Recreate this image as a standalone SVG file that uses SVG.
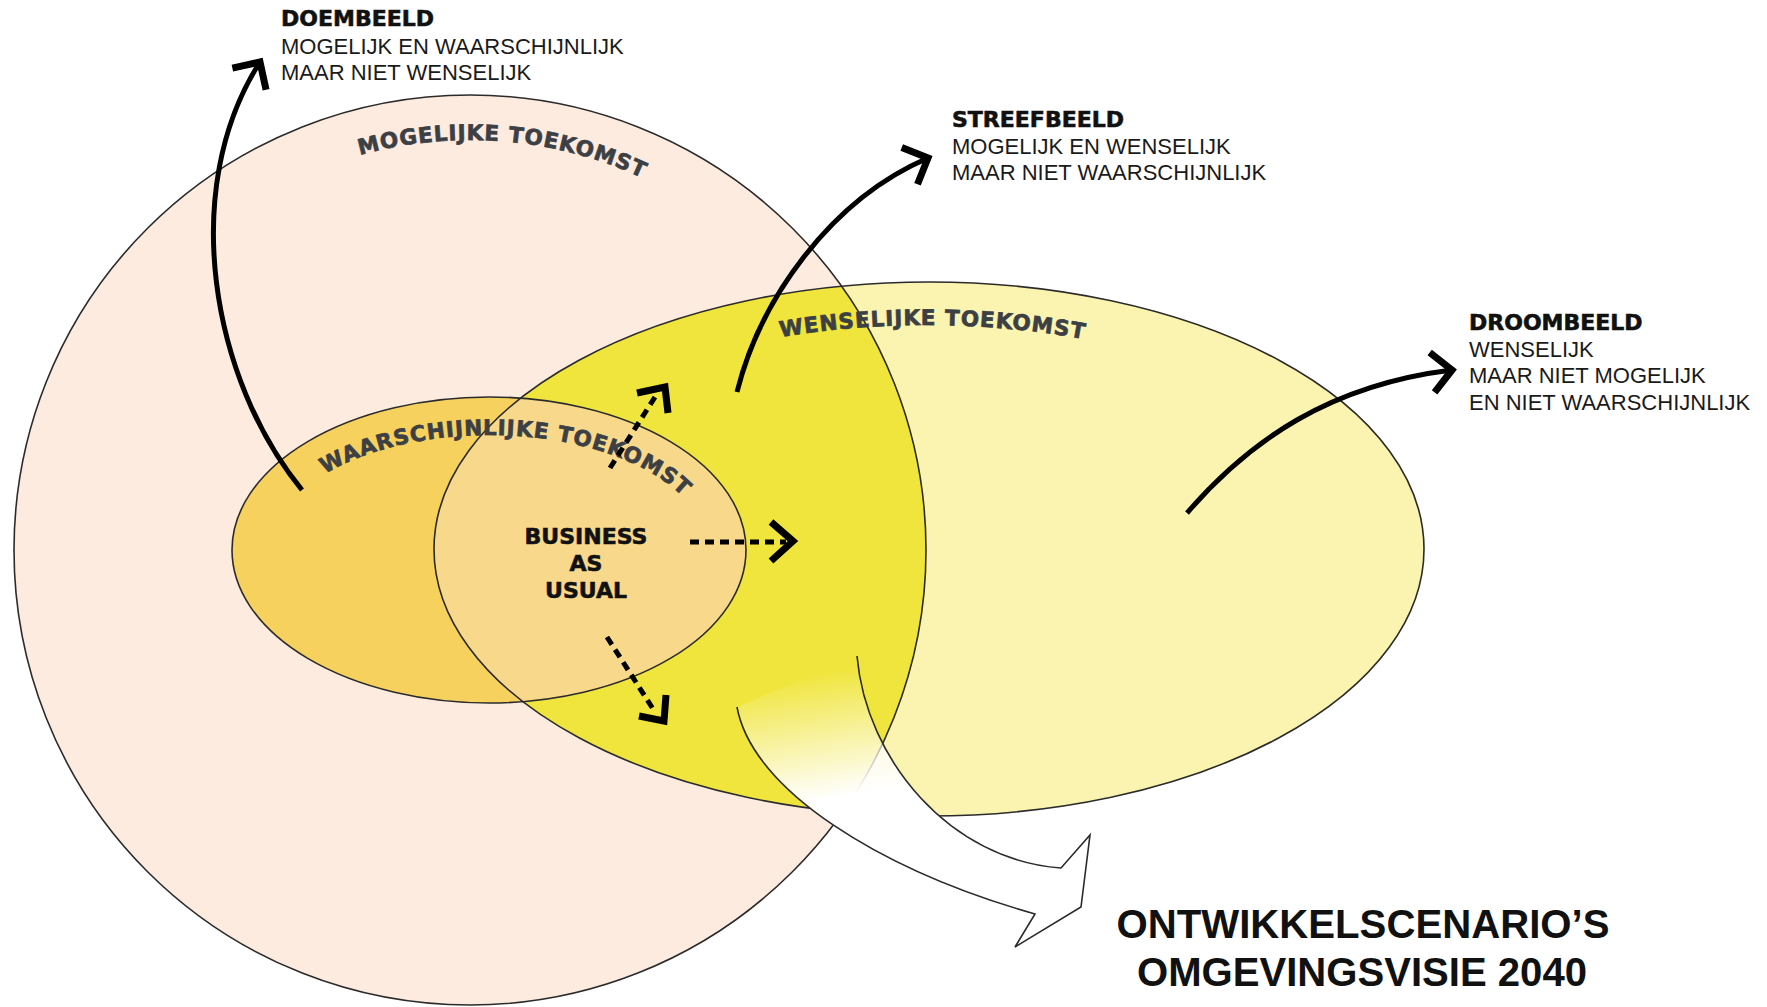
<svg xmlns="http://www.w3.org/2000/svg" width="1767" height="1007" viewBox="0 0 1767 1007">
<style>
.outline{fill:none;stroke:#2b2b2b;stroke-width:1.6}
.arc{font-family:"DejaVu Sans",sans-serif;font-weight:bold;font-size:21.5px;fill:#3c3f44;stroke:#3c3f44;stroke-width:0.7;letter-spacing:0.9px}
.head{font-family:"DejaVu Sans",sans-serif;font-weight:bold;font-size:22px;fill:#111;stroke:#111;stroke-width:0.6}
.body{font-family:"Liberation Sans",Arial,sans-serif;font-size:22px;fill:#1a1a1a}
.bau{font-family:"DejaVu Sans",sans-serif;font-weight:bold;font-size:22px;fill:#111;stroke:#111;stroke-width:0.6;text-anchor:middle}
.title{font-family:"Liberation Sans",Arial,sans-serif;font-weight:bold;font-size:41px;fill:#111;text-anchor:middle}
.curve{fill:none;stroke:#000;stroke-width:5}
.dash{fill:none;stroke:#000;stroke-width:5;stroke-dasharray:9 6}
.chev{fill:none;stroke:#000;stroke-width:7;stroke-linejoin:miter}
</style>
<defs>
  <clipPath id="clipMog"><ellipse cx="470" cy="550" rx="456" ry="455"/></clipPath>
  <clipPath id="clipWen"><ellipse cx="929" cy="549" rx="495" ry="267"/></clipPath>
  <linearGradient id="fade" gradientUnits="userSpaceOnUse" x1="800" y1="675" x2="820" y2="800">
    <stop offset="0" stop-color="#ffffff" stop-opacity="0"/>
    <stop offset="1" stop-color="#ffffff" stop-opacity="1"/>
  </linearGradient>
  <marker id="chevron" markerUnits="userSpaceOnUse" markerWidth="60" markerHeight="60" viewBox="-30 -30 60 60" refX="0" refY="0" orient="auto" overflow="visible">
    <path d="M -20,-20 L 0,0 L -20,20" fill="none" stroke="#000" stroke-width="7"/>
  </marker>
  <path id="pMog" d="M 60,550 A 410,410 0 0 1 880,550"/>
  <path id="pWaar" d="M 270,550 A 219,115 0 0 1 708,550"/>
  <path id="pWen" d="M 474,549 A 452,224 0 0 1 1378,549"/>
</defs>

<g id="mogelijke-toekomst">
  <ellipse cx="470" cy="550" rx="456" ry="455" fill="#fdebe0"/>
</g>
<g id="wenselijke-toekomst">
  <ellipse cx="929" cy="549" rx="495" ry="267" fill="#fbf3b0"/>
  <ellipse cx="929" cy="549" rx="495" ry="267" fill="#f0e53c" clip-path="url(#clipMog)"/>
</g>
<g id="waarschijnlijke-toekomst">
  <ellipse cx="489" cy="550" rx="257" ry="153" fill="#f7d15e"/>
  <ellipse cx="489" cy="550" rx="257" ry="153" fill="#f8d98c" clip-path="url(#clipWen)"/>
</g>
<g id="outlines">
  <ellipse class="outline" cx="470" cy="550" rx="456" ry="455"/>
  <ellipse class="outline" cx="929" cy="549" rx="495" ry="267"/>
  <ellipse class="outline" cx="489" cy="550" rx="257" ry="153"/>
</g>

<g id="ontwikkel-pijl">
  <path d="M 737,707 C 752,790 880,870 1035,914 L 1015,947 L 1081,907 L 1090,835 L 1061,868 C 950,860 866,760 857,656 Z" fill="url(#fade)"/>
  <path d="M 737,707 C 752,790 880,870 1035,914 L 1015,947 L 1081,907 L 1090,835 L 1061,868 C 950,860 866,760 857,656" fill="none" stroke="#2b2b2b" stroke-width="1.6" stroke-linejoin="miter"/>
</g>

<g id="labels-curved">
  <text class="arc"><textPath href="#pMog" startOffset="52.6%" text-anchor="middle">MOGELIJKE TOEKOMST</textPath></text>
  <text class="arc"><textPath href="#pWaar" startOffset="53.5%" text-anchor="middle">WAARSCHIJNLIJKE TOEKOMST</textPath></text>
  <text class="arc"><textPath href="#pWen" startOffset="50.6%" text-anchor="middle">WENSELIJKE TOEKOMST</textPath></text>
</g>

<g id="business-as-usual">
  <text class="bau" x="586" y="544">BUSINESS</text>
  <text class="bau" x="586" y="571">AS</text>
  <text class="bau" x="586" y="598">USUAL</text>
</g>

<g id="connectors">
  <path class="curve" d="M 302,490 C 212,380 178,190 260,62" marker-end="url(#chevron)"/>
  <path class="curve" d="M 737,392 C 760,300 830,200 928,158" marker-end="url(#chevron)"/>
  <path class="curve" d="M 1187,513 C 1250,440 1330,385 1452,370" marker-end="url(#chevron)"/>
  <path class="dash" d="M 610,468 L 655,397"/>
  <polyline class="chev" points="637,393 665,387 668,413"/>
  <path class="dash" d="M 690,542 L 786,542"/>
  <polyline class="chev" points="771,522 793,541 771,561"/>
  <path class="dash" d="M 607,637 L 655,712"/>
  <polyline class="chev" points="639,716 664,721 666,695"/>
</g>

<g id="doembeeld">
  <text class="head" x="281" y="26">DOEMBEELD</text>
  <text class="body" x="281" y="54">MOGELIJK EN WAARSCHIJNLIJK</text>
  <text class="body" x="281" y="80">MAAR NIET WENSELIJK</text>
</g>
<g id="streefbeeld">
  <text class="head" x="952" y="127">STREEFBEELD</text>
  <text class="body" x="952" y="154">MOGELIJK EN WENSELIJK</text>
  <text class="body" x="952" y="180">MAAR NIET WAARSCHIJNLIJK</text>
</g>
<g id="droombeeld">
  <text class="head" x="1469" y="330">DROOMBEELD</text>
  <text class="body" x="1469" y="357">WENSELIJK</text>
  <text class="body" x="1469" y="383">MAAR NIET MOGELIJK</text>
  <text class="body" x="1469" y="410">EN NIET WAARSCHIJNLIJK</text>
</g>
<g id="ontwikkelscenarios">
  <text class="title" x="1363" y="938" textLength="493" lengthAdjust="spacingAndGlyphs">ONTWIKKELSCENARIO’S</text>
  <text class="title" x="1362" y="986" textLength="450" lengthAdjust="spacingAndGlyphs">OMGEVINGSVISIE 2040</text>
</g>
</svg>
